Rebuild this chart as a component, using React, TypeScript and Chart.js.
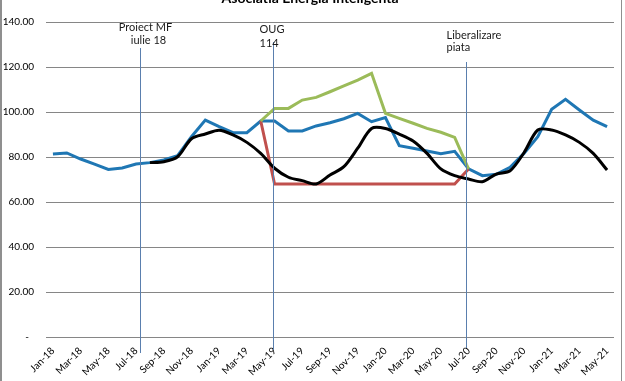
import React, { useEffect, useRef } from "react";
import { Chart, registerables } from "chart.js";

Chart.register(...registerables);

const chartTitle = "Asociatia Energia Inteligenta";

const months = [
  "Jan-18", "Feb-18", "Mar-18", "Apr-18", "May-18", "Jun-18", "Jul-18", "Aug-18", "Sep-18", "Oct-18", "Nov-18", "Dec-18",
  "Jan-19", "Feb-19", "Mar-19", "Apr-19", "May-19", "Jun-19", "Jul-19", "Aug-19", "Sep-19", "Oct-19", "Nov-19", "Dec-19",
  "Jan-20", "Feb-20", "Mar-20", "Apr-20", "May-20", "Jun-20", "Jul-20", "Aug-20", "Sep-20", "Oct-20", "Nov-20", "Dec-20",
  "Jan-21", "Feb-21", "Mar-21", "Apr-21", "May-21",
];

const blueSeries = [
  81.3, 81.8, 79.1, 76.8, 74.5, 75.1, 76.9, 77.5, 78.7, 80.6, 89.0, 96.4,
  93.5, 90.8, 90.8, 96.0, 96.0, 91.6, 91.6, 93.8, 95.2, 97.0, 99.4, 95.7,
  97.5, 85.0, 83.9, 82.7, 81.5, 82.5, 74.7, 71.7, 72.3, 75.4, 81.6, 89.0,
  101.2, 105.6, 100.9, 96.4, 93.5,
];

const blackSeries = [
  null, null, null, null, null, null, null, 77.5, 77.9, 80.1, 88.1, 90.2,
  91.9, 89.8, 86.5, 81.6, 75.0, 71.0, 69.5, 68.0, 72.0, 75.7, 83.9, 92.7,
  92.7, 90.2, 87.1, 81.6, 74.7, 71.7, 70.2, 69.0, 72.4, 73.9, 81.9, 92.0,
  92.0, 89.8, 86.5, 81.6, 74.2,
];

const greenSeries = [
  null, null, null, null, null, null, null, null, null, null, null, null,
  null, null, null, 96.0, 101.6, 101.6, 105.3, 106.5, 109.0, 111.6, 114.2, 117.2,
  99.4, 97.2, 95.0, 92.7, 91.0, 88.7, 74.7, null, null, null, null, null,
  null, null, null, null, null,
];

const redSeries = [
  null, null, null, null, null, null, null, null, null, null, null, null,
  null, null, null, 96.0, 68.0, 68.0, 68.0, 68.0, 68.0, 68.0, 68.0, 68.0,
  68.0, 68.0, 68.0, 68.0, 68.0, 68.0, 74.7, null, null, null, null, null,
  null, null, null, null, null,
];

const yTickValues = [0, 20, 40, 60, 80, 100, 120, 140];

// event markers: category position (fractional month index) and text lines
const eventPositions = [6.3, 15.85, 29.85];
const eventLabels = [
  ["Proiect MF", "iulie 18"],
  ["OUG", "114"],
  ["Liberalizare", "piata"],
];

const FONT = "Lato, 'Open Sans', sans-serif";

const overlayPlugin = {
  id: "overlay",
  afterDatasetsDraw(chart: any) {
    const ctx = chart.ctx;
    const xs = chart.scales.x;
    const area = chart.chartArea;
    const x0 = xs.getPixelForValue(0);
    const step = xs.getPixelForValue(1) - x0;
    const styles = [
      { top: 26, bottom: 16, lines: [{ dx: 5, dy: 9, align: "center" }, { dx: 8, dy: 22, align: "center" }] },
      { top: 20, bottom: 13, lines: [{ dx: -14, dy: 11, align: "left" }, { dx: -14, dy: 25, align: "left" }] },
      { top: 40, bottom: 11, lines: [{ dx: -20, dy: 17, align: "left" }, { dx: -20, dy: 29, align: "left" }] },
    ];
    ctx.save();
    eventPositions.forEach((pos, i) => {
      const x = Math.round(x0 + pos * step) + 0.5;
      const st = styles[i];
      ctx.strokeStyle = "#5a7fae";
      ctx.lineWidth = 1;
      ctx.beginPath();
      ctx.moveTo(x, area.top + st.top);
      ctx.lineTo(x, area.bottom + st.bottom);
      ctx.stroke();
      ctx.fillStyle = "#1a1a1a";
      ctx.font = `11px ${FONT}`;
      ctx.textBaseline = "alphabetic";
      eventLabels[i].forEach((txt, j) => {
        const l = st.lines[j];
        ctx.textAlign = l.align;
        ctx.fillText(txt, x + l.dx, area.top + l.dy);
      });
    });
    ctx.restore();
  },
  afterDraw(chart: any) {
    const ctx = chart.ctx;
    ctx.save();
    ctx.fillStyle = "#000";
    ctx.font = `bold 14px ${FONT}`;
    ctx.textAlign = "center";
    ctx.textBaseline = "alphabetic";
    ctx.fillText(chartTitle, 310, 2.5);
    ctx.fillStyle = "#8f8f8f";
    ctx.fillRect(0, 0, 2, chart.height);
    ctx.fillRect(621, 0, 1, chart.height);
    ctx.restore();
  },
};

export default function App() {
  const ref = useRef<HTMLCanvasElement | null>(null);
  useEffect(() => {
    if (!ref.current) return;
    const chart = new Chart(ref.current, {
      type: "line",
      data: {
        labels: months,
        datasets: [
          { label: "black", data: blackSeries, borderColor: "#000000", borderWidth: 3, pointRadius: 0, tension: 0.3, order: 0 },
          { label: "green", data: greenSeries, borderColor: "#9bbb59", borderWidth: 3, pointRadius: 0, tension: 0, order: 1 },
          { label: "red", data: redSeries, borderColor: "#c0504d", borderWidth: 3, pointRadius: 0, tension: 0, order: 2 },
          { label: "blue", data: blueSeries, borderColor: "#1f77b4", borderWidth: 3, pointRadius: 0, tension: 0, order: 3 },
        ],
      },
      options: {
        responsive: false,
        animation: false,
        events: [],
        layout: { padding: { top: 22, right: 11, left: 0, bottom: 0 } },
        plugins: { legend: { display: false }, tooltip: { enabled: false }, title: { display: false } },
        scales: {
          x: {
            offset: true,
            grid: { display: false, drawTicks: false },
            border: { display: false },
            afterFit: (s: any) => { s.height = 44; },
            ticks: {
              autoSkip: false,
              maxRotation: 45,
              minRotation: 45,
              padding: 8,
              color: "#000",
              font: { family: FONT, size: 10 },
              callback: (_v: any, i: number) => (i % 2 === 0 ? months[i] : ""),
            },
          },
          y: {
            min: 0,
            max: 140,
            afterFit: (s: any) => { s.width = 46; },
            afterBuildTicks: (s: any) => { s.ticks = yTickValues.map((v) => ({ value: v })); },
            grid: { color: "#868686", lineWidth: 1, drawTicks: false },
            border: { display: false },
            ticks: {
              padding: 12,
              color: "#000",
              font: { family: FONT, size: 10 },
              callback: (v: any) => (Number(v) === 0 ? "-  " : Number(v).toFixed(2)),
            },
          },
        },
      },
      plugins: [overlayPlugin],
    } as any);
    return () => chart.destroy();
  }, []);
  return (
    <div style={{ position: "fixed", top: 0, left: 0, width: 625, height: 381, background: "#fff" }}>
      <canvas ref={ref} width={625} height={381} style={{ display: "block" }} />
    </div>
  );
}
